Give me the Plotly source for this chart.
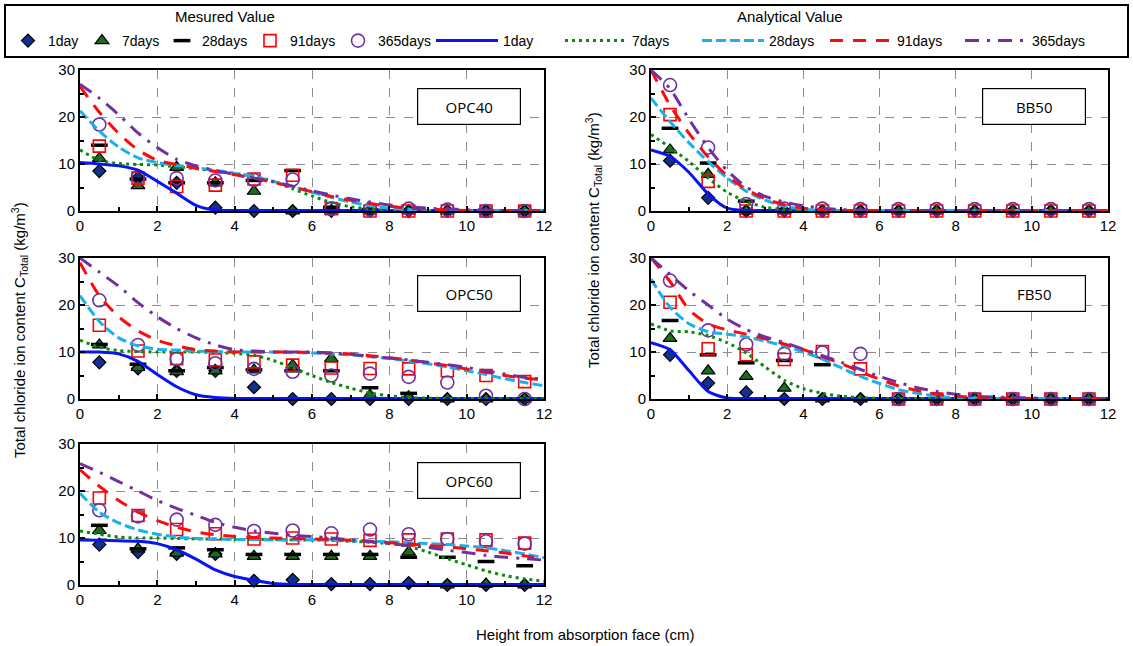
import plotly.graph_objects as go

# ---------------- data ----------------
x_meas = [0.5, 1.5, 2.5, 3.5, 4.5, 5.5, 6.5, 7.5, 8.5, 9.5, 10.5, 11.5]
ages = ["1day", "7days", "28days", "91days", "365days"]
panels = ["OPC40", "BB50", "OPC50", "FB50", "OPC60"]

# measured values (kg/m3)
meas_OPC40 = {
    "1day":    [8.5, 7.0, 6.0, 0.7, 0.0, 0.0, 0.0, 0.0, 0.0, 0.0, 0.0, 0.0],
    "7days":   [11.2, 5.4, 9.3, 6.0, 4.2, 0.0, 0.0, 0.0, 0.0, 0.0, 0.0, 0.0],
    "28days":  [14.0, 6.8, 6.0, 6.0, 6.5, 8.6, 0.8, 0.3, 0.0, 0.0, 0.0, 0.0],
    "91days":  [13.8, 7.0, 5.2, 5.5, 6.8, 7.6, 0.5, 0.0, 0.0, 0.0, 0.0, 0.0],
    "365days": [18.4, 7.2, 7.0, 6.5, 6.6, 6.7, 0.5, 0.3, 0.5, 0.3, 0.0, 0.0],
}
meas_BB50 = {
    "1day":    [10.7, 2.8, 0.0, 0.0, 0.0, 0.0, 0.0, 0.0, 0.0, 0.0, 0.0, 0.0],
    "7days":   [13.0, 7.8, 0.0, 0.0, 0.0, 0.0, 0.0, 0.0, 0.0, 0.0, 0.0, 0.0],
    "28days":  [17.6, 10.2, 2.1, 0.3, 0.0, 0.0, 0.0, 0.0, 0.0, 0.0, 0.0, 0.0],
    "91days":  [20.5, 6.3, 0.0, 0.0, 0.0, 0.0, 0.0, 0.0, 0.0, 0.0, 0.0, 0.0],
    "365days": [26.8, 13.5, 1.5, 0.5, 0.5, 0.4, 0.4, 0.4, 0.4, 0.4, 0.4, 0.4],
}
meas_OPC50 = {
    "1day":    [7.8, 6.5, 6.0, 6.0, 2.5, 0.0, 0.0, 0.0, 0.0, 0.0, 0.0, 0.0],
    "7days":   [11.5, 6.7, 5.8, 6.0, 6.2, 7.2, 8.6, 0.8, 0.5, 0.0, 0.0, 0.0],
    "28days":  [11.6, 7.4, 6.0, 6.7, 6.2, 6.0, 6.0, 2.4, 1.2, 0.0, 0.0, 0.0],
    "91days":  [15.7, 10.2, 8.6, 8.3, 7.9, 7.2, 6.6, 6.5, 6.4, 6.0, 5.0, 3.7],
    "365days": [21.0, 11.5, 8.5, 7.6, 6.4, 5.8, 5.0, 5.4, 4.7, 3.5, 0.7, 0.0],
}
meas_FB50 = {
    "1day":    [9.4, 3.4, 1.4, 0.0, 0.0, 0.0, 0.0, 0.0, 0.0, 0.0, 0.0, 0.0],
    "7days":   [12.9, 6.0, 4.8, 2.3, 0.0, 0.0, 0.0, 0.0, 0.0, 0.0, 0.0, 0.0],
    "28days":  [16.7, 9.4, 7.7, 8.2, 7.3, 0.0, 0.0, 0.0, 0.0, 0.0, 0.0, 0.0],
    "91days":  [20.6, 10.7, 9.4, 8.4, 10.1, 6.4, 0.0, 0.0, 0.0, 0.0, 0.0, 0.0],
    "365days": [25.2, 14.6, 11.6, 9.6, 9.9, 9.6, 0.0, 0.0, 0.0, 0.0, 0.0, 0.0],
}
meas_OPC60 = {
    "1day":    [8.6, 7.0, 6.6, 6.6, 0.9, 1.1, 0.2, 0.2, 0.4, 0.0, 0.0, 0.0],
    "7days":   [11.6, 7.7, 6.8, 6.6, 6.1, 6.1, 6.1, 6.1, 7.0, 0.0, 0.2, 0.0],
    "28days":  [12.7, 7.7, 7.9, 7.5, 6.5, 6.5, 6.5, 6.5, 5.9, 5.9, 5.0, 4.1],
    "91days":  [18.5, 14.8, 11.8, 10.9, 9.8, 10.0, 9.8, 9.5, 9.6, 9.8, 9.6, 8.9],
    "365days": [15.9, 14.6, 13.9, 12.8, 11.5, 11.6, 11.0, 11.8, 10.8, 9.8, 9.3, 8.8],
}

# analytical values, read at these depths (cm)
x_ana = [0, 0.5, 1, 1.5, 2, 2.5, 3, 3.5, 4, 4.5, 5, 5.5, 6, 6.5, 7, 7.5, 8, 8.5, 9, 9.5, 10, 10.5, 11, 11.5, 12]
ana_OPC40 = {
    "1day":    [10.3, 10.0, 9.6, 8.7, 6.3, 3.8, 1.2, 0.2, 0.1, 0.1, 0.1, 0.1, 0.1, 0.1, 0.1, 0.1, 0.1, 0.1, 0.1, 0.1, 0.1, 0.1, 0.1, 0.1, 0.1],
    "7days":   [13.0, 10.8, 10.1, 9.9, 9.8, 9.4, 9.0, 8.5, 8.0, 7.4, 6.3, 4.7, 3.2, 1.8, 0.9, 0.4, 0.2, 0.1, 0.1, 0.1, 0.1, 0.1, 0.1, 0.1, 0.1],
    "28days":  [21.3, 17.0, 13.6, 11.3, 10.3, 9.7, 9.2, 8.7, 8.0, 7.3, 6.3, 5.2, 4.0, 2.9, 1.9, 1.1, 0.6, 0.3, 0.1, 0.1, 0.1, 0.1, 0.1, 0.1, 0.1],
    "91days":  [26.5, 21.0, 16.5, 13.0, 10.8, 9.9, 9.1, 8.4, 7.7, 7.0, 6.1, 5.1, 4.1, 3.1, 2.3, 1.6, 1.0, 0.6, 0.4, 0.2, 0.1, 0.1, 0.1, 0.1, 0.1],
    "365days": [27.0, 24.0, 20.5, 16.6, 13.5, 11.0, 9.6, 8.6, 7.8, 7.0, 6.2, 5.3, 4.3, 3.4, 2.6, 1.9, 1.3, 0.9, 0.6, 0.4, 0.3, 0.2, 0.1, 0.1, 0.1],
}
ana_BB50 = {
    "1day":    [13.0, 11.6, 8.2, 3.6, 0.6, 0.1, 0.1, 0.1, 0.1, 0.1, 0.1, 0.1, 0.1, 0.1, 0.1, 0.1, 0.1, 0.1, 0.1, 0.1, 0.1, 0.1, 0.1, 0.1, 0.1],
    "7days":   [16.3, 13.5, 10.5, 7.0, 4.0, 2.0, 0.8, 0.3, 0.1, 0.1, 0.1, 0.1, 0.1, 0.1, 0.1, 0.1, 0.1, 0.1, 0.1, 0.1, 0.1, 0.1, 0.1, 0.1, 0.1],
    "28days":  [24.0, 19.0, 14.5, 10.5, 7.0, 4.2, 2.3, 1.0, 0.4, 0.1, 0.1, 0.1, 0.1, 0.1, 0.1, 0.1, 0.1, 0.1, 0.1, 0.1, 0.1, 0.1, 0.1, 0.1, 0.1],
    "91days":  [30.0, 22.5, 16.5, 11.5, 7.5, 4.6, 2.6, 1.3, 0.6, 0.3, 0.1, 0.1, 0.1, 0.1, 0.1, 0.1, 0.1, 0.1, 0.1, 0.1, 0.1, 0.1, 0.1, 0.1, 0.1],
    "365days": [30.0, 26.0, 19.5, 13.5, 8.6, 5.1, 3.1, 1.9, 1.1, 0.6, 0.3, 0.2, 0.1, 0.1, 0.1, 0.1, 0.1, 0.1, 0.1, 0.1, 0.1, 0.1, 0.1, 0.1, 0.1],
}
ana_OPC50 = {
    "1day":    [10.0, 10.0, 9.6, 8.0, 5.2, 2.6, 0.9, 0.3, 0.1, 0.1, 0.1, 0.1, 0.1, 0.1, 0.1, 0.1, 0.1, 0.1, 0.1, 0.1, 0.1, 0.1, 0.1, 0.1, 0.1],
    "7days":   [12.5, 11.0, 10.3, 10.1, 10.0, 10.0, 10.0, 9.9, 9.7, 9.3, 8.2, 6.6, 5.0, 3.5, 2.3, 1.3, 0.7, 0.3, 0.2, 0.1, 0.1, 0.1, 0.1, 0.1, 0.1],
    "28days":  [22.0, 16.5, 13.0, 11.3, 10.6, 10.4, 10.2, 10.1, 10.0, 10.0, 10.0, 9.9, 9.8, 9.6, 9.4, 9.0, 8.6, 8.1, 7.5, 6.8, 6.0, 5.2, 4.3, 3.5, 2.8],
    "91days":  [29.0, 22.0, 17.5, 14.5, 12.5, 11.3, 10.5, 10.2, 10.0, 10.0, 10.0, 10.0, 9.9, 9.8, 9.6, 9.2, 8.8, 8.3, 7.7, 7.1, 6.4, 5.7, 5.0, 4.4, 4.1],
    "365days": [30.0, 27.0, 24.0, 20.5, 17.5, 15.0, 13.0, 11.5, 10.5, 10.2, 10.0, 10.0, 10.0, 9.8, 9.5, 9.1, 8.7, 8.3, 7.8, 7.3, 6.7, 6.0, 5.3, 4.6, 4.2],
}
ana_FB50 = {
    "1day":    [12.0, 10.5, 6.0, 1.6, 0.2, 0.1, 0.1, 0.1, 0.1, 0.1, 0.1, 0.1, 0.1, 0.1, 0.1, 0.1, 0.1, 0.1, 0.1, 0.1, 0.1, 0.1, 0.1, 0.1, 0.1],
    "7days":   [16.0, 14.5, 14.3, 13.5, 12.0, 9.8, 6.8, 4.0, 2.2, 1.2, 0.6, 0.3, 0.1, 0.1, 0.1, 0.1, 0.1, 0.1, 0.1, 0.1, 0.1, 0.1, 0.1, 0.1, 0.1],
    "28days":  [25.5, 19.5, 16.0, 14.3, 13.8, 13.2, 12.3, 11.3, 10.0, 8.5, 6.6, 4.8, 3.3, 2.0, 1.2, 0.6, 0.3, 0.2, 0.1, 0.1, 0.1, 0.1, 0.1, 0.1, 0.1],
    "91days":  [30.0, 25.0, 19.0, 16.0, 14.7, 13.8, 12.8, 11.7, 10.5, 9.0, 7.5, 5.8, 4.2, 2.8, 1.8, 1.0, 0.6, 0.4, 0.2, 0.1, 0.1, 0.1, 0.1, 0.1, 0.1],
    "365days": [30.0, 26.5, 23.0, 20.0, 17.0, 14.8, 13.2, 12.0, 10.6, 9.2, 7.8, 6.3, 4.8, 3.5, 2.4, 1.6, 1.0, 0.6, 0.4, 0.3, 0.2, 0.1, 0.1, 0.1, 0.1],
}
ana_OPC60 = {
    "1day":    [9.6, 9.5, 9.4, 9.3, 8.8, 7.5, 5.5, 3.2, 1.8, 1.0, 0.3, 0.1, 0.1, 0.1, 0.1, 0.1, 0.1, 0.1, 0.1, 0.1, 0.1, 0.1, 0.1, 0.1, 0.1],
    "7days":   [11.5, 10.8, 10.2, 10.0, 10.0, 9.9, 9.8, 9.8, 9.7, 9.7, 9.7, 9.6, 9.6, 9.5, 9.3, 9.1, 8.8, 8.2, 7.0, 5.6, 4.3, 3.0, 2.0, 1.3, 0.8],
    "28days":  [19.5, 15.5, 13.2, 11.7, 10.8, 10.2, 9.9, 9.8, 9.7, 9.7, 9.6, 9.6, 9.6, 9.5, 9.4, 9.3, 9.2, 9.0, 8.8, 8.6, 8.3, 7.9, 7.3, 6.6, 5.8],
    "91days":  [24.5, 21.0, 18.0, 15.5, 13.7, 12.3, 11.3, 10.7, 10.3, 10.1, 10.0, 9.9, 9.8, 9.7, 9.5, 9.3, 9.0, 8.7, 8.4, 8.1, 7.7, 7.3, 6.8, 6.2, 5.5],
    "365days": [25.8, 24.0, 22.0, 20.0, 18.0, 16.3, 14.8, 13.3, 12.3, 11.5, 11.0, 10.6, 10.3, 10.0, 9.6, 9.2, 8.8, 8.4, 8.0, 7.4, 6.9, 6.3, 5.9, 5.6, 5.3],
}

meas_all = {"OPC40": meas_OPC40, "BB50": meas_BB50, "OPC50": meas_OPC50, "FB50": meas_FB50, "OPC60": meas_OPC60}
ana_all = {"OPC40": ana_OPC40, "BB50": ana_BB50, "OPC50": ana_OPC50, "FB50": ana_FB50, "OPC60": ana_OPC60}

# ---------------- styling ----------------
W, H = 1133, 646
FONT = "Liberation Sans, Arial, sans-serif"

marker_style = {
    "1day":    dict(symbol="diamond", size=10, color="#14308f", line=dict(color="black", width=1.2)),
    "7days":   dict(symbol="triangle-up", size=12, color="#1e6b1e", line=dict(color="black", width=1.2)),
    "28days":  dict(symbol="line-ew", size=12, color="black", line=dict(color="black", width=3.5)),
    "91days":  dict(symbol="square-open", size=12, color="#ff0000", line=dict(color="#ff0000", width=1.6)),
    "365days": dict(symbol="circle-open", size=13, color="#7030a0", line=dict(color="#7030a0", width=1.6)),
}
line_style = {
    "1day":    dict(color="#0a14f0", width=3, dash="solid"),
    "7days":   dict(color="#0a8a0a", width=3, dash="3px,4px"),
    "28days":  dict(color="#1ab0ee", width=3, dash="10px,4px"),
    "91days":  dict(color="#ff0a0a", width=3, dash="13px,10px"),
    "365days": dict(color="#7030a0", width=3, dash="14px,8px,3px,8px"),
}
# legend entry widths (px) to match the reference spacing
meas_legend_w = {"1day": 29, "7days": 35, "28days": 43, "91days": 43, "365days": 56}
ana_legend_w = {"1day": 52, "7days": 60, "28days": 51, "91days": 58, "365days": 60}

# panel positions (pixels): x0, x1, ytop, ybottom
pos = {
    "OPC40": (80, 544, 70, 211),
    "BB50": (651, 1108, 70, 211),
    "OPC50": (80, 544, 258, 399),
    "FB50": (651, 1108, 258, 399),
    "OPC60": (80, 544, 444, 585),
}

fig = go.Figure()
layout = {}
annotations = []

for i, p in enumerate(panels):
    n = i + 1
    xa = "x" if n == 1 else f"x{n}"
    ya = "y" if n == 1 else f"y{n}"
    x0, x1, yt, yb = pos[p]
    common = dict(
        showgrid=True, gridcolor="#8c8c8c", griddash="dash", gridwidth=1.2,
        showline=True, mirror=True, linecolor="black", linewidth=2,
        ticks="inside", ticklen=5, tickcolor="black", tickwidth=1.5,
        tickfont=dict(family=FONT, size=15, color="black"), zeroline=False,
        fixedrange=True, automargin=False,
    )
    layout["xaxis" if n == 1 else f"xaxis{n}"] = dict(
        domain=[x0 / W, x1 / W], anchor=ya, range=[0, 12], dtick=2,
        minor=dict(dtick=1, ticks="inside", ticklen=4, tickcolor="black", tickwidth=1.5, showgrid=False),
        **common,
    )
    layout["yaxis" if n == 1 else f"yaxis{n}"] = dict(
        domain=[1 - yb / H, 1 - yt / H], anchor=xa, range=[0, 30], dtick=10,
        minor=dict(dtick=5, ticks="inside", ticklen=4, tickcolor="black", tickwidth=1.5, showgrid=False),
        **common,
    )
    # measured markers
    for a in ages:
        fig.add_trace(go.Scatter(
            x=x_meas, y=meas_all[p][a], mode="markers", name=a,
            marker=marker_style[a], xaxis=xa, yaxis=ya, cliponaxis=False,
            legend="legend", legendgroup="m" + a, showlegend=(n == 1),
            legendwidth=meas_legend_w[a],
        ))
    # analytical lines
    for a in ages:
        fig.add_trace(go.Scatter(
            x=x_ana, y=ana_all[p][a], mode="lines", name=a,
            line=dict(**line_style[a], shape="spline", smoothing=0.7),
            xaxis=xa, yaxis=ya,
            legend="legend2", legendgroup="a" + a, showlegend=(n == 1),
            legendwidth=ana_legend_w[a],
        ))
    # panel label box
    bx0 = 418 if x0 < 300 else 983
    annotations.append(dict(
        xref="paper", yref="paper", x=(bx0 + 51) / W, y=1 - (yt + 36) / H,
        text=p, showarrow=False, font=dict(family="Open Sans, sans-serif", size=15, color="black"),
        bordercolor="black", borderwidth=1.2, bgcolor="white", width=100, height=33,
        xanchor="center", yanchor="middle",
    ))

ytitle = "Total chloride ion content C<sub>Total</sub> (kg/m<sup>3</sup>)"
annotations += [
    dict(xref="paper", yref="paper", x=19 / W, y=1 - 330 / H, text=ytitle,
         textangle=-90, showarrow=False, xanchor="center", yanchor="middle",
         font=dict(family=FONT, size=15, color="black")),
    dict(xref="paper", yref="paper", x=593 / W, y=1 - 240 / H, text=ytitle,
         textangle=-90, showarrow=False, xanchor="center", yanchor="middle",
         font=dict(family=FONT, size=15, color="black")),
    dict(xref="paper", yref="paper", x=585 / W, y=1 - 634 / H,
         text="Height from absorption face (cm)", showarrow=False,
         xanchor="center", yanchor="middle",
         font=dict(family=FONT, size=15, color="black")),
    dict(xref="paper", yref="paper", x=225 / W, y=1 - 17 / H, text="Mesured Value",
         showarrow=False, xanchor="center", yanchor="middle",
         font=dict(family=FONT, size=15, color="black")),
    dict(xref="paper", yref="paper", x=790 / W, y=1 - 17 / H, text="Analytical Value",
         showarrow=False, xanchor="center", yanchor="middle",
         font=dict(family=FONT, size=15, color="black")),
]

fig.update_layout(
    template="none",
    width=W, height=H, margin=dict(l=0, r=0, t=0, b=0, autoexpand=False),
    paper_bgcolor="white", plot_bgcolor="white",
    font=dict(family=FONT, size=15, color="black"),
    annotations=annotations,
    legend=dict(orientation="h", x=8 / W, y=1 - 25 / H, xanchor="left", yanchor="top",
                font=dict(family=FONT, size=14, color="black"), itemwidth=30,
                bgcolor="rgba(0,0,0,0)", borderwidth=0, tracegroupgap=0),
    legend2=dict(orientation="h", x=431 / W, y=1 - 25 / H, xanchor="left", yanchor="top",
                 font=dict(family=FONT, size=14, color="black"), itemwidth=62,
                 bgcolor="rgba(0,0,0,0)", borderwidth=0, tracegroupgap=0),
    shapes=[dict(type="rect", xref="paper", yref="paper", x0=5 / W, x1=1128 / W,
                 y0=1 - 57 / H, y1=1 - 5 / H, line=dict(color="black", width=2))],
    **layout,
)

fig.write_html("out.html")
